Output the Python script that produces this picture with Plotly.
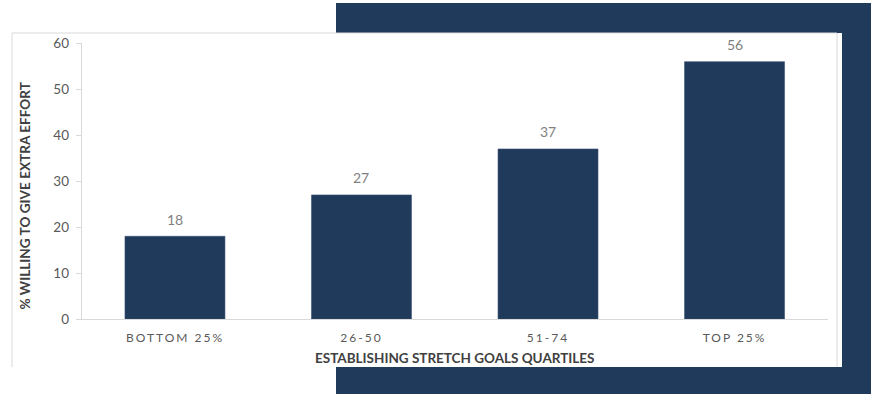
import plotly.graph_objects as go

categories = ["BOTTOM 25%", "26-50", "51-74", "TOP 25%"]
values = [18, 27, 37, 56]
y_ticks = [0, 10, 20, 30, 40, 50, 60]
y_title = "% WILLING TO GIVE EXTRA EFFORT"
x_title = "ESTABLISHING STRETCH GOALS QUARTILES"

W, H = 871, 394
NAVY = "#203a5c"
GRID = "#d9d9d9"

def px(x):
    return x / W

def py(y):
    return (H - y) / H

fig = go.Figure()
fig.add_trace(go.Bar(
    x=categories, y=values,
    marker=dict(color=NAVY, line=dict(color="#3a5374", width=0.6)),
    cliponaxis=False, hoverinfo="skip",
))

shapes = [
    dict(type="rect", xref="paper", yref="paper", x0=px(336), x1=1.0, y0=0.0, y1=py(3),
         fillcolor=NAVY, line=dict(width=0), layer="below"),
    dict(type="rect", xref="paper", yref="paper", x0=px(12), x1=px(842), y0=py(367), y1=py(33),
         fillcolor="white", line=dict(width=0), layer="below"),
    dict(type="path", xref="paper", yref="paper",
         path=f"M {px(12)} {py(367)} L {px(12)} {py(33)} L {px(837)} {py(33)} L {px(837)} {py(367)}",
         line=dict(color=GRID, width=1), layer="below"),
]

annotations = [
    dict(text=f"<b>{y_title}</b>", xref="paper", yref="paper",
         x=px(24), y=py(195.5), textangle=-90, showarrow=False,
         xanchor="center", yanchor="middle",
         font=dict(family="Lato", size=13.6, color="#404040")),
    dict(text=f"<b>{x_title}</b>", xref="paper", yref="paper",
         x=px(454.7), y=py(358), showarrow=False,
         xanchor="center", yanchor="middle",
         font=dict(family="Lato", size=13.5, color="#404040")),
]
for c, v in zip(categories, values):
    annotations.append(dict(text=str(v), x=c, y=v, xref="x", yref="y",
                            showarrow=False, xanchor="center", yanchor="middle",
                            yshift=17,
                            font=dict(family="Lato", size=14, color="#7f7f7f")))

fig.update_layout(
    width=W, height=H,
    margin=dict(l=0, r=0, t=0, b=0),
    paper_bgcolor="white", plot_bgcolor="rgba(0,0,0,0)",
    showlegend=False,
    bargap=0.464,
    shapes=shapes,
    annotations=annotations,
    font=dict(family="Lato", color="#595959"),
    xaxis=dict(domain=[px(81.7), px(827.8)], showgrid=False, showline=True,
               linecolor=GRID, linewidth=1.3, ticks="", automargin=False,
               ticklabelstandoff=7,
               tickfont=dict(family="Lato", size=12, color="#595959"),
               fixedrange=True),
    yaxis=dict(domain=[py(319), py(43.3)], range=[0, 60], tickvals=y_ticks,
               showgrid=False, showline=True, linecolor=GRID, linewidth=1,
               ticks="outside", ticklen=5, tickcolor=GRID, zeroline=False,
               ticklabelstandoff=4, automargin=False,
               tickfont=dict(family="Lato", size=13.5, color="#595959"),
               fixedrange=True),
)

post = """
document.documentElement.style.margin='0';
document.body.style.margin='0';
document.body.style.overflow='hidden';
function sp(){document.querySelectorAll('.xtick text').forEach(function(t){t.style.letterSpacing='2px';});}
sp();
var gd=document.getElementsByClassName('plotly-graph-div')[0];
if(gd&&gd.on){gd.on('plotly_afterplot', sp);}
"""

fig.write_html("out.html", config={"displayModeBar": False}, post_script=post)
